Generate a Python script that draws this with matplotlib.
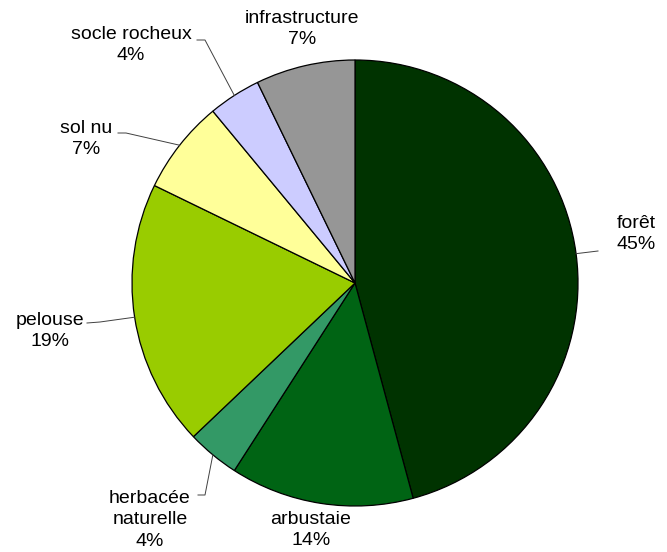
import numpy as np
import matplotlib
matplotlib.use("Agg")
import matplotlib.pyplot as plt

plt.rcParams['font.family'] = ['Liberation Sans', 'DejaVu Sans']

# Data (wedge sizes, labels as printed on it)
labels = ["forêt", "arbustaie", "herbacée\nnaturelle", "pelouse", "sol nu", "socle rocheux", "infrastructure"]
values = [45.8, 13.3, 3.8, 19.3, 6.8, 3.8, 7.2]
pct_labels = ["45%", "14%", "4%", "19%", "7%", "4%", "7%"]
colors = ["#003300", "#006414", "#339966", "#99CC00", "#FFFF99", "#CCCCFF", "#969696"]

# Layout in pixel coordinates (figure is 667 x 552)
W, H = 667, 552
cx, cy, R = 355, H - 283, 223

# label anchor (center of text block), leader points near text, None = no leader
label_pos = [(636, H - 234), (311, H - 530), (150, H - 520), (50, H - 331),
             (86, H - 139), (131, H - 45), (302, H - 29)]
leader_end = [(598, H - 251), None, (198, H - 495), (87, H - 323),
              (118, H - 133), (197, H - 40), None]
leader_elbow = [(598, H - 251), None, (205, H - 495), (100, H - 322),
                (126, H - 133), (205, H - 40), None]

fig = plt.figure(figsize=(W / 100, H / 100), dpi=100)
ax = fig.add_axes([0, 0, 1, 1])

ax.pie(values, colors=colors, startangle=90, counterclock=False,
       center=(cx, cy), radius=R, frame=True,
       wedgeprops=dict(edgecolor='black', linewidth=0.9))
ax.set_xlim(0, W)
ax.set_ylim(0, H)
ax.set_aspect('equal')
ax.axis('off')

total = sum(values)
cum = 0
for i, (lab, v) in enumerate(zip(labels, values)):
    mid = 90 - 360 * (cum + v / 2) / total
    cum += v
    x, y = label_pos[i]
    ax.text(x, y, f"{lab}\n{pct_labels[i]}", ha='center', va='center', fontsize=14,
            linespacing=1.35, color='black')
    if leader_end[i] is not None:
        px = cx + R * np.cos(np.radians(mid))
        py = cy + R * np.sin(np.radians(mid))
        ex, ey = leader_end[i]
        bx, by = leader_elbow[i]
        ax.plot([ex, bx, px], [ey, by, py], color='#404040', linewidth=0.7)

fig.savefig("out.png", dpi=100)
